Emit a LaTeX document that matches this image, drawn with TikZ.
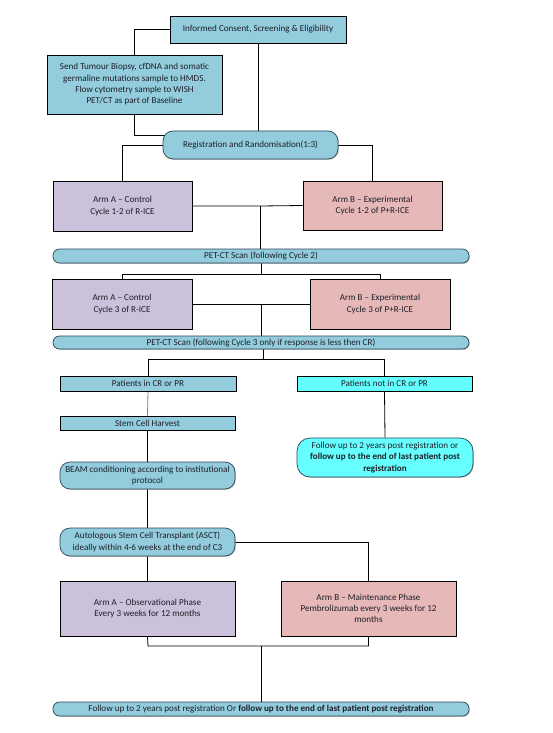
\documentclass[tikz,border=0pt]{standalone}
\usepackage{fontspec}
\setmainfont{Carlito}
\usetikzlibrary{calc,backgrounds,shadows}
\definecolor{boxblue}{RGB}{147,205,221}
\definecolor{boxpurple}{RGB}{204,193,218}
\definecolor{boxpink}{RGB}{230,185,184}
\definecolor{boxcyan}{RGB}{102,255,255}
\definecolor{rimdark}{RGB}{45,70,85}
\definecolor{txt}{RGB}{30,30,40}
\tikzset{
  base/.style={inner sep=1pt, align=center, text=txt, font=\fontsize{9.1}{11.3}\selectfont},
  rbox/.style={base, draw=black, line width=0.8pt, rectangle},
  bluebox/.style={rbox, fill=boxblue},
  purplebox/.style={rbox, fill=boxpurple},
  pinkbox/.style={rbox, fill=boxpink},
  cyanbox/.style={rbox, fill=boxcyan},
  roundbox/.style={base, draw=rimdark, line width=0.7pt, rounded corners=10pt, fill=boxblue,
     drop shadow={shadow xshift=0.8pt, shadow yshift=-0.8pt, opacity=0.45}},
  barbox/.style={roundbox, rounded corners=6.5pt},
  conn/.style={draw=black, line width=0.8pt},
  greyconn/.style={draw=gray, line width=0.8pt},
}
\begin{document}
\begin{tikzpicture}[x=1pt,y=-1pt]
\useasboundingbox (0,0) rectangle (553,733);

\node[bluebox, minimum width=176pt, minimum height=27pt] (consent) at (258,29.5) {Informed Consent, Screening \& Eligibility};
\node[bluebox, minimum width=175pt, minimum height=59pt] (send) at (134.5,84.5) {Send Tumour Biopsy, cfDNA and somatic\\germaline mutations sample to HMDS.\\Flow cytometry sample to WISH\\PET/CT as part of Baseline};
\node[roundbox, minimum width=175pt, minimum height=28pt] (reg) at (250.5,145) {Registration and Randomisation(1:3)};

\node[purplebox, minimum width=139pt, minimum height=50pt] (armA1) at (122.5,206) {Arm A -- Control\\Cycle 1-2 of R-ICE};
\node[pinkbox, minimum width=139pt, minimum height=49pt] (armB1) at (372.5,205.5) {Arm B -- Experimental\\Cycle 1-2 of P+R-ICE};

\node[barbox, minimum width=416pt, minimum height=14pt] (pet1) at (261,256) {PET-CT Scan (following Cycle 2)};

\node[purplebox, minimum width=140pt, minimum height=50pt] (armA3) at (122,304) {Arm A -- Control\\Cycle 3 of R-ICE};
\node[pinkbox, minimum width=140pt, minimum height=50pt] (armB3) at (380,304) {Arm B -- Experimental\\Cycle 3 of P+R-ICE};

\node[barbox, minimum width=416pt, minimum height=13pt] (pet2) at (261,342.5) {PET-CT Scan (following Cycle 3 only if response is less then CR)};

\node[bluebox, minimum width=176pt, minimum height=15pt] (cr) at (148,383.5) {Patients in CR or PR};
\node[cyanbox, minimum width=175pt, minimum height=15pt] (notcr) at (384.5,383.5) {Patients not in CR or PR};

\node[bluebox, minimum width=175pt, minimum height=14pt] (stem) at (147.5,423) {Stem Cell Harvest};
\node[roundbox, minimum width=175pt, minimum height=27pt] (beam) at (147.5,475.5) {BEAM conditioning according to institutional\\protocol};
\node[roundbox, fill=boxcyan, rounded corners=13pt, minimum width=176pt, minimum height=39pt] (fu1) at (385,457.5) {Follow up to 2 years post registration or\\\textbf{follow up to the end of last patient post}\\\textbf{registration}};

\node[roundbox, minimum width=175pt, minimum height=28pt] (asct) at (147.5,542) {Autologous Stem Cell Transplant (ASCT)\\ideally within 4-6 weeks at the end of C3};

\node[purplebox, minimum width=175pt, minimum height=55pt] (obsA) at (147.5,608.5) {Arm A -- Observational Phase\\Every 3 weeks for 12 months};
\node[pinkbox, minimum width=175pt, minimum height=55pt] (maintB) at (368.5,608.5) {Arm B -- Maintenance Phase\\Pembrolizumab every 3 weeks for 12\\months};

\node[barbox, minimum width=416pt, minimum height=14pt] (final) at (261,709) {Follow up to 2 years post registration Or \textbf{follow up to the end of last patient post registration}};

\coordinate (j1) at (260,206);
\coordinate (j2) at (261,274);
\coordinate (j3) at (261,304);
\coordinate (j4) at (263,359);
\coordinate (j5) at (261,646);
\coordinate (j6) at (148,646);

\begin{scope}[on background layer]
\fill[white] (0,0) rectangle (553,733);
\draw[conn] (consent.west) -| (send.north);
\draw[conn] (send.south) |- ($(reg.west)+(10,-10)$);
\draw[conn] (consent.south) -- (consent.south |- reg.north);
\draw[conn] (reg.west) -| (armA1.north);
\draw[conn] (reg.east) -| (armB1.north);
\draw[conn] (armA1.east) -- (j1) -- (armB1.west);
\draw[conn] (j1) -- (j1 |- pet1.center);
\draw[conn] (pet1.center |- pet1.south) -- (j2);
\draw[conn] (j2) -| (armA3.north);
\draw[conn] (j2) -| (armB3.north);
\draw[conn] (armA3.east) -- (armB3.west);
\draw[conn] (j3) -- (j3 |- pet2.center);
\draw[conn] (j4 |- pet2.center) -- (j4);
\draw[conn] (j4) -| (cr.north);
\draw[conn] (j4) -| (notcr.north);
\draw[greyconn] (cr.south) -- (stem.north);
\draw[conn] (stem.south) -- (beam.north);
\draw[conn] (beam.south) -- (asct.north);
\draw[conn] (asct.south) -- (obsA.north);
\draw[conn] (notcr.south) -- (fu1.north);
\draw[conn] (asct.east) -| (maintB.north);
\draw[conn] (obsA.south) -- (j6) -| (maintB.south);
\draw[conn] (j5) -- (final.center);
\end{scope}
\end{tikzpicture}
\end{document}
